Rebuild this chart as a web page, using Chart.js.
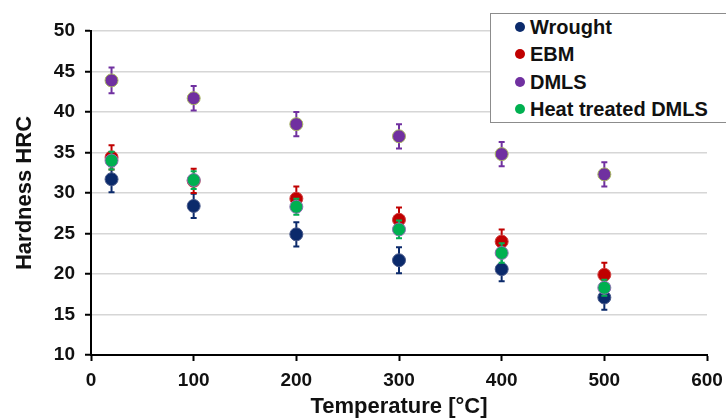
<!DOCTYPE html>
<html>
<head>
<meta charset="utf-8">
<script src="https://cdn.jsdelivr.net/npm/chart.js@4/dist/chart.umd.min.js"></script>
<style>
  html, body { margin: 0; padding: 0; background: #fff; overflow: hidden; }
  #wrap { position: relative; width: 726px; height: 420px; overflow: hidden; }
  #legend {
    position: absolute; left: 490px; top: 13px; width: 250px; height: 110px;
    background: #fff; border: 1.5px solid #8c8c8c; box-sizing: border-box;
    font-family: "Liberation Sans", Arial, sans-serif; font-weight: bold; font-size: 20px; color: #111;
  }
  .item { position: absolute; left: 0; height: 24px; line-height: 24px; white-space: nowrap; }
  .dot { position: absolute; left: 24px; top: 7px; width: 10px; height: 10px; border-radius: 50%; }
  .lbl { position: absolute; left: 39px; top: 0; }
</style>
</head>
<body>
<div id="wrap">
  <canvas id="c" width="726" height="420"></canvas>
  <div id="legend"></div>
</div>
<script>
// Test temperatures (°C)
const temps = [20, 100, 200, 300, 400, 500];

// Mean hardness (HRC) per material
const wrought = [31.7, 28.4, 24.9, 21.7, 20.6, 17.1];
const ebm     = [34.4, 31.5, 29.3, 26.7, 24.0, 19.9];
const dmls    = [43.9, 41.7, 38.5, 37.0, 34.8, 32.3];
const htDmls  = [34.0, 31.6, 28.3, 25.5, 22.6, 18.3];

// Standard deviation (HRC) per material
const wroughtErr = [1.6, 1.5, 1.5, 1.6, 1.5, 1.5];
const ebmErr     = [1.5, 1.5, 1.5, 1.5, 1.5, 1.5];
const dmlsErr    = [1.6, 1.5, 1.5, 1.5, 1.5, 1.5];
const htDmlsErr  = [1.1, 1.1, 1.0, 1.1, 1.2, 1.0];

const seriesLabels = ['Wrought', 'EBM', 'DMLS', 'Heat treated DMLS'];
const fillColors   = ['#0b2a6b', '#c00000', '#7030a0', '#00b050'];
const edgeColors   = ['#4a5a8a', '#d04040', '#a8b860', '#8a70b0'];

const xTicks = [0, 100, 200, 300, 400, 500, 600];
const yTicks = [10, 15, 20, 25, 30, 35, 40, 45, 50];

const means = [wrought, ebm, dmls, htDmls];
const errs  = [wroughtErr, ebmErr, dmlsErr, htDmlsErr];

const FONT = '"Liberation Sans", Arial, sans-serif';

// Later series are painted over earlier ones (lower order = on top)
const datasets = means.map((vals, k) => ({
  label: seriesLabels[k],
  data: temps.map((t, i) => ({ x: t, y: vals[i] })),
  errors: errs[k],
  order: means.length - k,
  backgroundColor: fillColors[k],
  borderColor: edgeColors[k],
  borderWidth: 1,
  pointRadius: 6.5,
  pointHoverRadius: 6.5,
  showLine: false
}));

// Vertical error bars with caps, drawn just beneath each dataset's markers
const errorBars = {
  id: 'errorBars',
  beforeDatasetDraw(chart, args) {
    const ds = chart.data.datasets[args.index];
    const meta = args.meta;
    const ys = chart.scales.y;
    const ctx = chart.ctx;
    ctx.save();
    ctx.strokeStyle = ds.backgroundColor;
    ctx.lineWidth = 2;
    meta.data.forEach((pt, i) => {
      const v = ds.data[i].y, e = ds.errors[i];
      const top = ys.getPixelForValue(v + e);
      const bot = ys.getPixelForValue(v - e);
      ctx.beginPath();
      ctx.moveTo(pt.x, top); ctx.lineTo(pt.x, bot);
      ctx.moveTo(pt.x - 3, top); ctx.lineTo(pt.x + 3, top);
      ctx.moveTo(pt.x - 3, bot); ctx.lineTo(pt.x + 3, bot);
      ctx.stroke();
    });
    ctx.restore();
  }
};

new Chart(document.getElementById('c'), {
  type: 'scatter',
  data: { datasets },
  plugins: [errorBars],
  options: {
    responsive: false,
    animation: false,
    events: [],
    layout: { padding: { top: 31, right: 19, left: 0, bottom: 0 } },
    plugins: { legend: { display: false }, tooltip: { enabled: false } },
    scales: {
      x: {
        type: 'linear', min: 0, max: 600,
        afterFit(s) { s.height = 65; s.paddingLeft = 0; s.paddingRight = 0; },
        afterBuildTicks(s) { s.ticks = xTicks.map(v => ({ value: v })); },
        border: { color: '#000', width: 2 },
        grid: { drawOnChartArea: false, drawTicks: true, tickLength: 6, tickColor: '#000', tickWidth: 2 },
        ticks: { color: '#111', padding: 8, font: { family: FONT, size: 19, weight: 'bold' }, maxRotation: 0 },
        title: { display: true, text: 'Temperature [°C]', color: '#111', padding: { top: 0, bottom: 0 },
                 font: { family: FONT, size: 22, weight: 'bold' } }
      },
      y: {
        type: 'linear', min: 10, max: 50,
        afterFit(s) { s.width = 91; s.paddingTop = 0; s.paddingBottom = 0; },
        afterBuildTicks(s) { s.ticks = yTicks.map(v => ({ value: v })); },
        border: { color: '#000', width: 2 },
        grid: { color: '#d6d6d6', lineWidth: 1.5, drawTicks: true, tickLength: 6, tickColor: '#000', tickWidth: 2 },
        ticks: { color: '#111', padding: 10, font: { family: FONT, size: 19, weight: 'bold' } },
        title: { display: true, text: 'Hardness HRC', color: '#111', padding: { top: 12, bottom: 0 },
                 font: { family: FONT, size: 22, weight: 'bold' } }
      }
    }
  }
});

// Legend box
const legend = document.getElementById('legend');
seriesLabels.forEach((name, k) => {
  const row = document.createElement('div');
  row.className = 'item';
  row.style.top = (1 + k * 27.3) + 'px';
  const dot = document.createElement('span');
  dot.className = 'dot';
  dot.style.background = fillColors[k];
  const lbl = document.createElement('span');
  lbl.className = 'lbl';
  lbl.textContent = name;
  row.appendChild(dot); row.appendChild(lbl);
  legend.appendChild(row);
});
</script>
</body>
</html>
